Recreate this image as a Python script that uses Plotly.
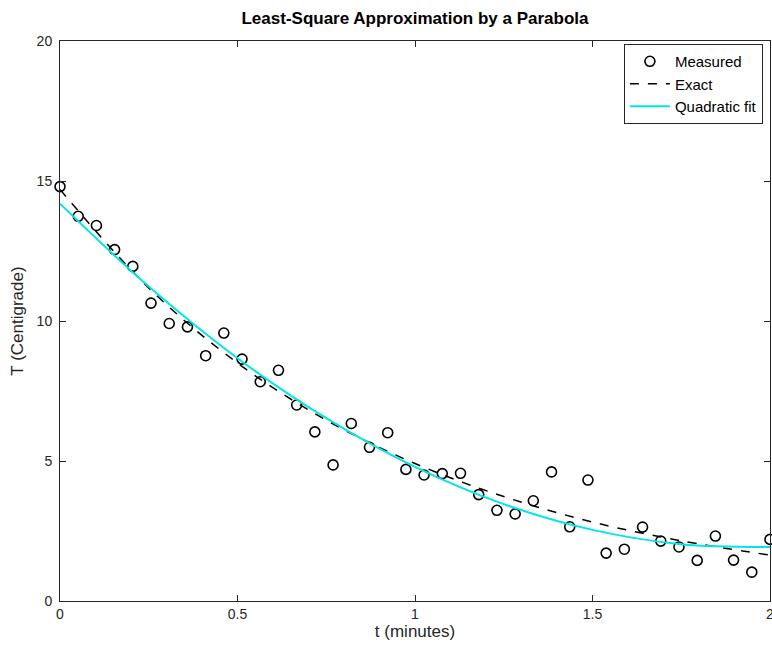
import plotly.graph_objects as go

# Measurement times (40 samples between 0 and 2 minutes)
t_meas = [0.0, 0.0513, 0.1026, 0.1538, 0.2051, 0.2564, 0.3077, 0.359, 0.4103, 0.4615,
          0.5128, 0.5641, 0.6154, 0.6667, 0.7179, 0.7692, 0.8205, 0.8718, 0.9231, 0.9744,
          1.0256, 1.0769, 1.1282, 1.1795, 1.2308, 1.2821, 1.3333, 1.3846, 1.4359, 1.4872,
          1.5385, 1.5897, 1.641, 1.6923, 1.7436, 1.7949, 1.8462, 1.8974, 1.9487, 2.0]
T_meas = [14.80, 13.74, 13.41, 12.55, 11.95, 10.64, 9.91, 9.79, 8.76, 9.57,
          8.64, 7.83, 8.24, 7.00, 6.04, 4.86, 6.34, 5.49, 6.01, 4.70,
          4.50, 4.55, 4.56, 3.80, 3.24, 3.11, 3.58, 4.61, 2.65, 4.32,
          1.71, 1.85, 2.64, 2.14, 1.93, 1.45, 2.32, 1.46, 1.03, 2.20]

# Curves
t_curve = [0.0, 0.25, 0.5, 0.75, 1.0, 1.25, 1.5, 1.75, 2.0]
T_exact = [14.70, 11.18, 8.50, 6.46, 4.91, 3.73, 2.82, 2.15, 1.64]
T_fit = [14.19, 11.23, 8.67, 6.53, 4.79, 3.46, 2.54, 2.03, 1.93]

x_ticks = [0, 0.5, 1, 1.5, 2]
x_ticklabels = ["0", "0.5", "1", "1.5", "2"]
y_ticks = [0, 5, 10, 15, 20]
y_ticklabels = ["0", "5", "10", "15", "20"]

FONT = "Liberation Sans, Arial, sans-serif"

fig = go.Figure()
fig.add_trace(go.Scatter(
    x=t_meas, y=T_meas, mode="markers", name="Measured", cliponaxis=False,
    marker=dict(symbol="circle-open", size=10, color="black", line=dict(width=1.6, color="black")),
))
fig.add_trace(go.Scatter(
    x=t_curve, y=T_exact, mode="lines", name="Exact", line_shape="spline",
    line=dict(color="black", width=1.5, dash="dash"),
))
fig.add_trace(go.Scatter(
    x=t_curve, y=T_fit, mode="lines", name="Quadratic fit", line_shape="spline",
    line=dict(color="#00e6e6", width=2),
))

axis_common = dict(
    showgrid=False, zeroline=False, showline=True, linecolor="#262626", linewidth=1,
    mirror="ticks", ticks="inside", ticklen=6, tickcolor="#262626", tickwidth=1,
    tickfont=dict(family=FONT, size=14, color="#262626"), automargin=False,
    ticklabeloverflow="allow",
)

fig.update_layout(
    width=772, height=649,
    margin=dict(l=60, r=2, t=41, b=48, autoexpand=False),
    paper_bgcolor="white", plot_bgcolor="white",
    font=dict(family=FONT, size=14, color="#262626"),
    title=dict(text="<b>Least-Square Approximation by a Parabola</b>",
               x=(60 + 770) / 2 / 772, xanchor="center", y=1 - 18 / 649, yanchor="middle",
               font=dict(family=FONT, size=17, color="black")),
    xaxis=dict(range=[0, 2], tickvals=x_ticks, ticktext=x_ticklabels,
               title=dict(text="t (minutes)", standoff=4, font=dict(family=FONT, size=17, color="#262626")),
               **axis_common),
    yaxis=dict(range=[0, 20], tickvals=y_ticks, ticktext=y_ticklabels, ticklabelstandoff=4,
               title=dict(text="T (Centigrade)", standoff=8, font=dict(family=FONT, size=17, color="#262626")),
               **axis_common),
    legend=dict(x=0.990, y=0.9946, xanchor="right", yanchor="top",
                bgcolor="white", bordercolor="#262626", borderwidth=1,
                font=dict(family=FONT, size=15, color="black"),
                tracegroupgap=0, itemwidth=40),
    showlegend=True,
)

fig.write_html("out.html", config={"displayModeBar": False},
               post_script="document.body.style.margin='0';document.body.style.overflow='hidden';")
